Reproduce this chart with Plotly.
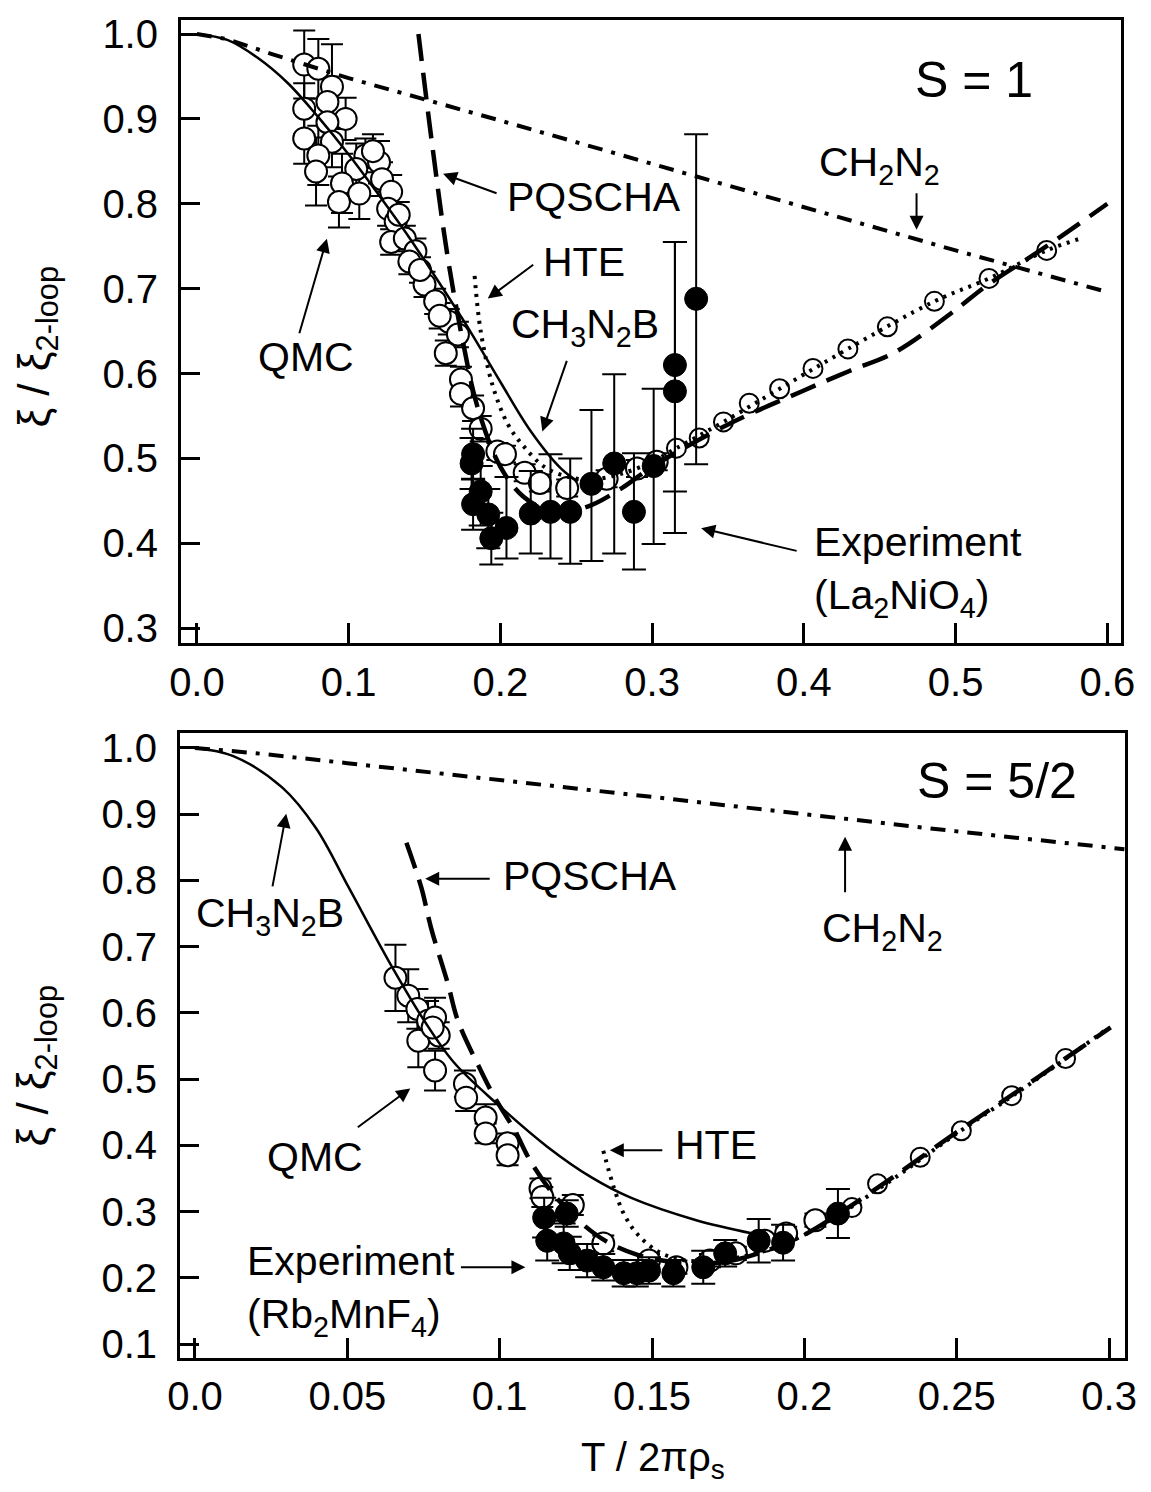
import plotly.graph_objects as go

# ---------------- DATA: top panel (S = 1) ----------------
s1_qmc_x = [0.0707, 0.080, 0.089, 0.086, 0.0707, 0.098, 0.086, 0.0707, 0.089, 0.080,
            0.111, 0.120, 0.0785, 0.105, 0.122, 0.0956, 0.107, 0.0936, 0.128, 0.126,
            0.131, 0.128, 0.133, 0.137, 0.144, 0.150, 0.157, 0.166, 0.172, 0.164,
            0.174, 0.174, 0.182, 0.187, 0.198, 0.203, 0.216, 0.226, 0.244, 0.270,
            0.290, 0.303, 0.116, 0.140, 0.147, 0.160]
s1_qmc_y = [0.964, 0.959, 0.938, 0.920, 0.912, 0.900, 0.896, 0.877, 0.873, 0.857,
            0.857, 0.849, 0.838, 0.841, 0.829, 0.824, 0.812, 0.802, 0.814, 0.794,
            0.779, 0.755, 0.787, 0.759, 0.744, 0.705, 0.685, 0.661, 0.646, 0.624,
            0.593, 0.576, 0.559, 0.535, 0.508, 0.505, 0.483, 0.471, 0.465, 0.476,
            0.488, 0.496, 0.862, 0.732, 0.722, 0.668]
s1_qmc_err = [0.04, 0.035, 0.05, 0.03, 0.03, 0.025, 0.03, 0.03, 0.03, 0.035,
              0.02, 0.025, 0.04, 0.03, 0.02, 0.035, 0.03, 0.03, 0.02, 0.02,
              0.015, 0.015, 0.015, 0.015, 0.015, 0.015, 0.015, 0.015, 0.015, 0.015,
              0.015, 0.015, 0.015, 0.015, 0.01, 0.01, 0.01, 0.01, 0.01, 0.01,
              0.01, 0.01, 0.02, 0.015, 0.015, 0.015]
s1_qmc_hi_x = [0.316, 0.331, 0.347, 0.364, 0.384, 0.406, 0.429, 0.455, 0.486, 0.522, 0.560]
s1_qmc_hi_y = [0.512, 0.524, 0.543, 0.565, 0.582, 0.606, 0.629, 0.655, 0.685, 0.712, 0.745]

s1_exp_x = [0.181, 0.182, 0.187, 0.182, 0.192, 0.194, 0.204, 0.220, 0.233, 0.246,
            0.260, 0.275, 0.288, 0.301, 0.315, 0.315, 0.329]
s1_exp_y = [0.494, 0.505, 0.461, 0.446, 0.434, 0.406, 0.418, 0.435, 0.437, 0.437,
            0.470, 0.494, 0.437, 0.491, 0.579, 0.610, 0.688]
s1_exp_ep = [0.03, 0.03, 0.03, 0.03, 0.03, 0.03, 0.06, 0.05, 0.068, 0.063,
             0.087, 0.105, 0.069, 0.091, 0.176, 0.145, 0.194]
s1_exp_em = [0.03, 0.03, 0.04, 0.03, 0.04, 0.031, 0.036, 0.047, 0.055, 0.061,
             0.091, 0.106, 0.068, 0.092, 0.118, 0.198, 0.195]

s1_ch2n2_x = [0.0, 0.02, 0.05, 0.1, 0.2, 0.3, 0.4, 0.5, 0.6]
s1_ch2n2_y = [1.0, 0.994, 0.976, 0.948, 0.898, 0.847, 0.797, 0.745, 0.696]

s1_ch3n2b_x = [0.0, 0.02, 0.04, 0.06, 0.08, 0.10, 0.12, 0.14, 0.16, 0.18, 0.20, 0.22, 0.24, 0.251]
s1_ch3n2b_y = [1.0, 0.993, 0.972, 0.942, 0.902, 0.858, 0.810, 0.760, 0.706, 0.650, 0.590, 0.532, 0.488, 0.473]

s1_pqscha_x = [0.146, 0.155, 0.165, 0.175, 0.185, 0.20, 0.215, 0.23, 0.245, 0.26, 0.28,
               0.30, 0.35, 0.40, 0.43, 0.46, 0.50, 0.52, 0.56, 0.60]
s1_pqscha_y = [1.0, 0.87, 0.74, 0.64, 0.56, 0.49, 0.455, 0.44, 0.438, 0.445, 0.465,
               0.49, 0.54, 0.58, 0.603, 0.625, 0.675, 0.703, 0.75, 0.80]

s1_hte_x = [0.183, 0.187, 0.195, 0.205, 0.215, 0.229, 0.245, 0.26, 0.28, 0.30, 0.316,
            0.347, 0.384, 0.429, 0.486, 0.522, 0.56, 0.584]
s1_hte_y = [0.715, 0.65, 0.585, 0.54, 0.515, 0.49, 0.478, 0.475, 0.482, 0.496, 0.512,
            0.543, 0.582, 0.629, 0.685, 0.712, 0.745, 0.76]

# ---------------- DATA: bottom panel (S = 5/2) ----------------
s52_qmc_x = [0.0658, 0.070, 0.073, 0.0765, 0.0788, 0.0733, 0.0788, 0.080, 0.078, 0.0886,
             0.089, 0.0954, 0.0954, 0.1026, 0.1026, 0.1134, 0.114, 0.124, 0.134, 0.149,
             0.158, 0.169, 0.1775, 0.187, 0.194, 0.2036]
s52_qmc_y = [0.653, 0.626, 0.606, 0.588, 0.593, 0.558, 0.513, 0.566, 0.578, 0.493,
             0.472, 0.442, 0.418, 0.403, 0.385, 0.335, 0.322, 0.31, 0.252, 0.226,
             0.216, 0.226, 0.237, 0.256, 0.267, 0.287]
s52_qmc_err = [0.05, 0.04, 0.03, 0.03, 0.03, 0.04, 0.03, 0.02, 0.02, 0.02,
               0.02, 0.02, 0.015, 0.015, 0.015, 0.015, 0.015, 0.015, 0.012, 0.01,
               0.01, 0.01, 0.01, 0.01, 0.01, 0.01]
s52_qmc_hi_x = [0.2156, 0.224, 0.238, 0.2515, 0.268, 0.2857]
s52_qmc_hi_y = [0.306, 0.342, 0.382, 0.422, 0.475, 0.531]

s52_exp_x = [0.1146, 0.1156, 0.121, 0.122, 0.123, 0.1287, 0.134, 0.1407, 0.145, 0.149,
             0.157, 0.1668, 0.174, 0.185, 0.193, 0.211]
s52_exp_y = [0.291, 0.256, 0.252, 0.297, 0.237, 0.226, 0.216, 0.207, 0.207, 0.211,
             0.207, 0.216, 0.237, 0.256, 0.253, 0.297]
s52_exp_err = [0.03, 0.03, 0.03, 0.02, 0.025, 0.025, 0.02, 0.02, 0.02, 0.02,
               0.02, 0.025, 0.02, 0.033, 0.027, 0.037]

s52_ch2n2_x = [0.0, 0.02, 0.05, 0.1, 0.15, 0.2, 0.25, 0.305]
s52_ch2n2_y = [1.0, 0.992, 0.977, 0.952, 0.926, 0.900, 0.874, 0.847]

s52_ch3n2b_x = [0.0, 0.0124, 0.0287, 0.0397, 0.0505, 0.0635, 0.075, 0.085, 0.0993, 0.1156,
                0.13, 0.143, 0.1645, 0.183]
s52_ch3n2b_y = [1.0, 0.988, 0.94, 0.879, 0.789, 0.679, 0.59, 0.525, 0.462, 0.398,
                0.352, 0.321, 0.287, 0.267]

s52_pqscha_x = [0.0694, 0.0743, 0.0775, 0.083, 0.0863, 0.0938, 0.0984, 0.105, 0.11, 0.117,
                0.125, 0.135, 0.145, 0.155, 0.165, 0.175, 0.19, 0.20, 0.213, 0.23,
                0.25, 0.27, 0.29, 0.3005]
s52_pqscha_y = [0.857, 0.789, 0.728, 0.644, 0.588, 0.513, 0.472, 0.422, 0.377, 0.33,
                0.29, 0.255, 0.235, 0.225, 0.222, 0.225, 0.245, 0.265, 0.302, 0.355,
                0.42, 0.482, 0.545, 0.578]

s52_hte_x = [0.134, 0.1375, 0.1407, 0.145, 0.1515, 0.158, 0.165, 0.175, 0.19, 0.20,
             0.213, 0.23, 0.25, 0.27, 0.29, 0.3]
s52_hte_y = [0.392, 0.336, 0.297, 0.267, 0.241, 0.229, 0.225, 0.228, 0.245, 0.265,
             0.30, 0.352, 0.418, 0.48, 0.545, 0.578]

top_xticks = [0.0, 0.1, 0.2, 0.3, 0.4, 0.5, 0.6]
top_xtext = ["0.0", "0.1", "0.2", "0.3", "0.4", "0.5", "0.6"]
top_yticks = [0.3, 0.4, 0.5, 0.6, 0.7, 0.8, 0.9, 1.0]
bot_xticks = [0.0, 0.05, 0.1, 0.15, 0.2, 0.25, 0.3]
bot_xtext = ["0.0", "0.05", "0.1", "0.15", "0.2", "0.25", "0.3"]
bot_yticks = [0.1, 0.2, 0.3, 0.4, 0.5, 0.6, 0.7, 0.8, 0.9, 1.0]

# ---------------- FIGURE ----------------
W, H = 1151, 1492
ML, MR, MT, MB = 180, 19, 18, 134
PW, PH = W - ML - MR, H - MT - MB
FONT = "Liberation Sans, Arial, Helvetica, sans-serif"


def pxx(x):
    return (x - ML) / PW


def pxy(y):
    return (H - MB - y) / PH


fig = go.Figure()

open_marker = dict(symbol="circle", size=22, color="white", line=dict(color="black", width=2))
hollow_marker = dict(symbol="circle-open", size=19, color="black", line=dict(color="black", width=2))
filled_marker = dict(symbol="circle", size=23, color="black", line=dict(color="black", width=1))


def err(arr, arrm=None, width=9):
    d = dict(type="data", array=arr, color="black", thickness=2, width=width, visible=True)
    if arrm is not None:
        d["arrayminus"] = arrm
        d["symmetric"] = False
    return d


DASHDOT = "15px,9px,4px,9px"
DASH = "27px,12px"
DOT = "3px,6px"

# top panel
fig.add_trace(go.Scatter(x=s1_qmc_x, y=s1_qmc_y, mode="markers", marker=open_marker,
                         error_y=err(s1_qmc_err, None, 11), xaxis="x", yaxis="y"))
fig.add_trace(go.Scatter(x=s1_ch2n2_x, y=s1_ch2n2_y, mode="lines",
                         line=dict(color="black", width=4, dash=DASHDOT), xaxis="x", yaxis="y"))
fig.add_trace(go.Scatter(x=s1_ch3n2b_x, y=s1_ch3n2b_y, mode="lines", line_shape="spline",
                         line=dict(color="black", width=2.5), xaxis="x", yaxis="y"))
fig.add_trace(go.Scatter(x=s1_pqscha_x, y=s1_pqscha_y, mode="lines", line_shape="spline",
                         line=dict(color="black", width=4.5, dash=DASH), xaxis="x", yaxis="y"))
fig.add_trace(go.Scatter(x=s1_hte_x, y=s1_hte_y, mode="lines", line_shape="spline",
                         line=dict(color="black", width=4, dash=DOT), xaxis="x", yaxis="y"))
fig.add_trace(go.Scatter(x=s1_exp_x, y=s1_exp_y, mode="markers", marker=filled_marker,
                         error_y=err(s1_exp_ep, s1_exp_em, 12), xaxis="x", yaxis="y"))
fig.add_trace(go.Scatter(x=s1_qmc_hi_x, y=s1_qmc_hi_y, mode="markers", marker=hollow_marker,
                         xaxis="x", yaxis="y"))

# bottom panel
fig.add_trace(go.Scatter(x=s52_qmc_x, y=s52_qmc_y, mode="markers", marker=open_marker,
                         error_y=err(s52_qmc_err, None, 11), xaxis="x2", yaxis="y2"))
fig.add_trace(go.Scatter(x=s52_ch2n2_x, y=s52_ch2n2_y, mode="lines",
                         line=dict(color="black", width=4, dash=DASHDOT), xaxis="x2", yaxis="y2"))
fig.add_trace(go.Scatter(x=s52_ch3n2b_x, y=s52_ch3n2b_y, mode="lines", line_shape="spline",
                         line=dict(color="black", width=2.5), xaxis="x2", yaxis="y2"))
fig.add_trace(go.Scatter(x=s52_pqscha_x, y=s52_pqscha_y, mode="lines", line_shape="spline",
                         line=dict(color="black", width=4.5, dash=DASH), xaxis="x2", yaxis="y2"))
fig.add_trace(go.Scatter(x=s52_hte_x, y=s52_hte_y, mode="lines", line_shape="spline",
                         line=dict(color="black", width=4, dash=DOT), xaxis="x2", yaxis="y2"))
fig.add_trace(go.Scatter(x=s52_exp_x, y=s52_exp_y, mode="markers", marker=filled_marker,
                         error_y=err(s52_exp_err, None, 12), xaxis="x2", yaxis="y2"))
fig.add_trace(go.Scatter(x=s52_qmc_hi_x, y=s52_qmc_hi_y, mode="markers", marker=hollow_marker,
                         xaxis="x2", yaxis="y2"))

axis_common = dict(showgrid=False, zeroline=False, showline=True, linecolor="black", linewidth=3,
                   mirror=True, ticks="inside", tickcolor="black", tickwidth=2.5,
                   tickfont=dict(family=FONT, size=40, color="black"))

fig.update_layout(
    width=W, height=H,
    margin=dict(l=ML, r=MR, t=MT, b=MB),
    paper_bgcolor="white", plot_bgcolor="white",
    showlegend=False,
    font=dict(family=FONT, color="black"),
    xaxis=dict(domain=[pxx(181), pxx(1128)], range=[-0.0105, 0.609], anchor="y",
               tickvals=top_xticks, ticktext=top_xtext, ticklen=20, ticklabelstandoff=2, **axis_common),
    yaxis=dict(domain=[pxy(642), 1.0], range=[0.2824, 1.0165], anchor="x",
               tickvals=top_yticks, tickformat=".1f", ticklen=19, ticklabelstandoff=12, **axis_common),
    xaxis2=dict(domain=[0.0, 1.0], range=[-0.0049, 0.3052], anchor="y2",
                tickvals=bot_xticks, ticktext=bot_xtext, ticklen=20, ticklabelstandoff=1, **axis_common),
    yaxis2=dict(domain=[0.0, pxy(732)], range=[0.079, 1.0226], anchor="x2",
                tickvals=bot_yticks, tickformat=".1f", ticklen=19, ticklabelstandoff=12, **axis_common),
)

ann = []


def text(cx, cy, t, size=41, xanchor="center", align="center"):
    ann.append(dict(x=pxx(cx), y=pxy(cy), xref="paper", yref="paper", text=t, showarrow=False,
                    font=dict(family=FONT, size=size, color="black"), xanchor=xanchor, yanchor="middle",
                    align=align))


def arrow(tx, ty, hx, hy):
    ann.append(dict(x=pxx(hx), y=pxy(hy), xref="paper", yref="paper", text="", showarrow=True,
                    ax=tx - hx, ay=ty - hy, axref="pixel", ayref="pixel", arrowhead=2, arrowsize=1.4,
                    arrowwidth=2, arrowcolor="black", standoff=0, startstandoff=0))


# top panel labels
text(980, 78, "S = 1", size=50)
text(885, 163, "CH<sub>2</sub>N<sub>2</sub>")
arrow(922, 190, 922, 228)
text(597, 195, "PQSCHA")
arrow(500, 192, 445, 172)
text(587, 260, "HTE")
arrow(537, 262, 490, 297)
text(588, 325, "CH<sub>3</sub>N<sub>2</sub>B")
arrow(570, 358, 545, 430)
text(307, 356, "QMC")
arrow(300, 333, 328, 237)
text(817, 570, "Experiment<br>(La<sub>2</sub>NiO<sub>4</sub>)", xanchor="left", align="left")
arrow(802, 550, 705, 527)

# bottom panel labels
text(1003, 780, "S = 5/2", size=50)
text(888, 930, "CH<sub>2</sub>N<sub>2</sub>")
arrow(850, 893, 850, 836)
text(593, 875, "PQSCHA")
arrow(493, 878, 427, 878)
text(271, 915, "CH<sub>3</sub>N<sub>2</sub>B")
arrow(273, 887, 287, 813)
text(316, 1157, "QMC")
arrow(358, 1128, 412, 1088)
text(720, 1145, "HTE")
arrow(667, 1150, 613, 1150)
text(245, 1290, "Experiment<br>(Rb<sub>2</sub>MnF<sub>4</sub>)", xanchor="left", align="left")
arrow(462, 1267, 528, 1267)

# axis titles
ytitle = "ξ / ξ<sub>2-loop</sub>"
for cy in (345, 1065):
    ann.append(dict(x=pxx(35), y=pxy(cy), xref="paper", yref="paper", text=ytitle, showarrow=False,
                    textangle=-90, font=dict(family=FONT, size=44, color="black"),
                    xanchor="center", yanchor="middle"))
ann.append(dict(x=pxx(656), y=pxy(1460), xref="paper", yref="paper", text="T / 2πρ<sub>s</sub>",
                showarrow=False, font=dict(family=FONT, size=40, color="black"),
                xanchor="center", yanchor="middle"))

fig.update_layout(annotations=ann)
fig.write_html("out.html")
